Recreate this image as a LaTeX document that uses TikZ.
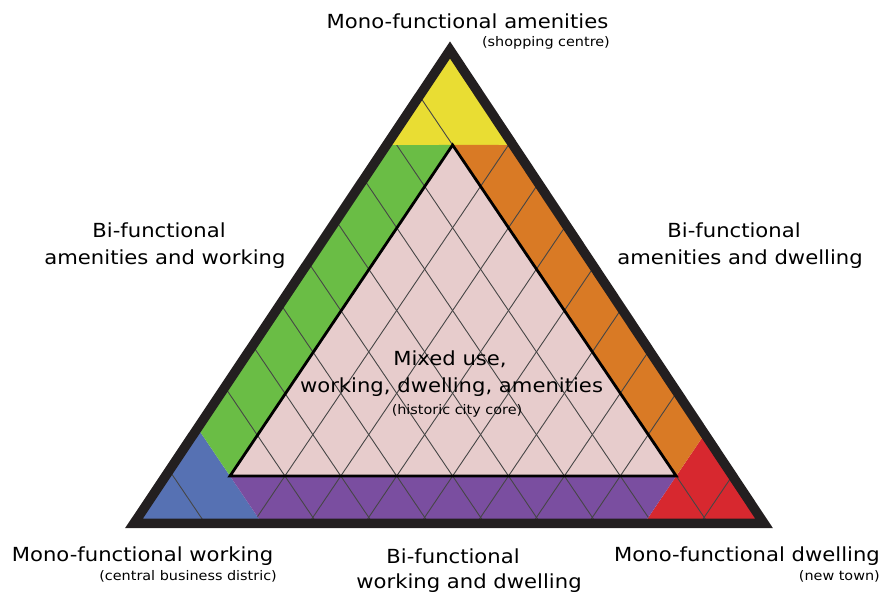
\documentclass[tikz,border=0pt]{standalone}
\usepackage{fontspec}
\setmainfont[FakeStretch=1.09]{DejaVu Sans}
\usetikzlibrary{calc}
\definecolor{cyellow}{RGB}{233,221,51}
\definecolor{cgreen}{RGB}{106,189,69}
\definecolor{corange}{RGB}{217,122,37}
\definecolor{cred}{RGB}{215,40,47}
\definecolor{cblue}{RGB}{86,113,179}
\definecolor{cpurple}{RGB}{122,78,160}
\definecolor{cpink}{RGB}{231,204,204}
\definecolor{cborder}{RGB}{35,31,32}
\definecolor{cgrid}{RGB}{70,70,70}
\begin{document}
\begin{tikzpicture}[x=1pt,y=-1pt,
  gridline/.style={draw=cgrid,line width=0.9pt},
  bigtext/.style={inner sep=0pt,font=\fontsize{19.4}{23}\selectfont},
  smalltext/.style={inner sep=0pt,font=\fontsize{13.2}{15}\selectfont}]
\useasboundingbox (0,0) rectangle (885,593);
% outer triangle (centre line of border)
\coordinate (V1) at (134,523.3);
\coordinate (V2) at (764,523.3);
\coordinate (V3) at (450,50);
% inner triangle
\coordinate (I1) at (230,476);
\coordinate (I2) at (676.2,476);
\coordinate (I3) at (452.6,145);
\coordinate (Bq) at ($(I1)+(27.95,41.375)$);
\coordinate (Rq) at ($(I2)+(27.95,-41.375)$);
\coordinate (I3r) at (600,145);
\coordinate (BL) at (intersection of V1--V3 and I1--Bq);
\coordinate (BB) at (intersection of V1--V2 and I1--Bq);
\coordinate (RR) at (intersection of V2--V3 and I2--Rq);
\coordinate (RB) at (intersection of V1--V2 and I2--Rq);
\coordinate (YL) at (intersection of V1--V3 and I3--I3r);
\coordinate (YR) at (intersection of V2--V3 and I3--I3r);
% regions
\fill[cyellow] (YL)--(V3)--(YR)--cycle;
\fill[cblue] (V1)--(BL)--(BB)--cycle;
\fill[cred] (RB)--(RR)--(V2)--cycle;
\fill[cgreen] (BL)--(YL)--(I3)--(I1)--cycle;
\fill[corange] (I3)--(YR)--(RR)--(I2)--cycle;
\fill[cpurple] (I1)--(I2)--(RB)--(BB)--cycle;
\fill[cpink] (I1)--(I2)--(I3)--cycle;
% grid lines in pink and bands
\begin{scope}
\clip (BB)--(BL)--(YL)--(YR)--(RR)--(RB)--cycle;
\foreach \k in {1,...,7}{
  \pgfmathsetmacro{\xk}{229+55.9*\k}
  \coordinate (p\k) at (\xk,476);
  \draw[gridline] ($(p\k)+(-55.9,82.75)$) -- ($(p\k)+(279.5,-413.75)$);
  \draw[gridline] ($(p\k)+(-279.5,-413.75)$) -- ($(p\k)+(55.9,82.75)$);
}
\end{scope}
% lines inside the corner triangles
\coordinate (pm) at (173.1,476);
\coordinate (pn) at (732.1,476);
\begin{scope}
\clip (V1)--(V2)--(V3)--cycle;
\draw[gridline] (I3) -- ($(I3)+(-55.9,-82.75)$);
\draw[gridline] ($(pm)+(-27.95,-41.375)$) -- ($(pm)+(55.9,82.75)$);
\draw[gridline] (I2) -- ($(I2)+(55.9,82.75)$);
\draw[gridline] ($(pn)+(-55.9,82.75)$) -- ($(pn)+(27.95,-41.375)$);
\end{scope}
% outlines
\draw[black,line width=2.8pt,line join=miter] (I1)--(I2)--(I3)--cycle;
\draw[cborder,line width=9.5pt,line join=miter] (V1)--(V2)--(V3)--cycle;
% labels
\node[bigtext,anchor=base] (tTop) at (467.5,28.3) {Mono-functional amenities};
\node[smalltext,anchor=base east] (tTopS) at (610,46.7) {(shopping centre)};
\node[bigtext,anchor=base] (tL1) at (159,238) {Bi-functional};
\node[bigtext,anchor=base] (tL2) at (165,265) {amenities and working};
\node[bigtext,anchor=base] (tR1) at (734,238) {Bi-functional};
\node[bigtext,anchor=base] (tR2) at (740,265) {amenities and dwelling};
\node[bigtext,anchor=base] (tM1) at (450,365) {Mixed use,};
\node[bigtext,anchor=base] (tM2) at (451.5,392) {working, dwelling, amenities};
\node[smalltext,anchor=base] (tM3) at (457,414) {(historic city core)};
\node[bigtext,anchor=base west] (tBL) at (11.7,561.7) {Mono-functional working};
\node[smalltext,anchor=base east] (tBLS) at (277,580) {(central business distric)};
\node[bigtext,anchor=base] (tB1) at (453,563) {Bi-functional};
\node[bigtext,anchor=base] (tB2) at (469,588) {working and dwelling};
\node[bigtext,anchor=base east] (tBR) at (880,561.7) {Mono-functional dwelling};
\node[smalltext,anchor=base east] (tBRS) at (880,580) {(new town)};
\end{tikzpicture}
\end{document}
